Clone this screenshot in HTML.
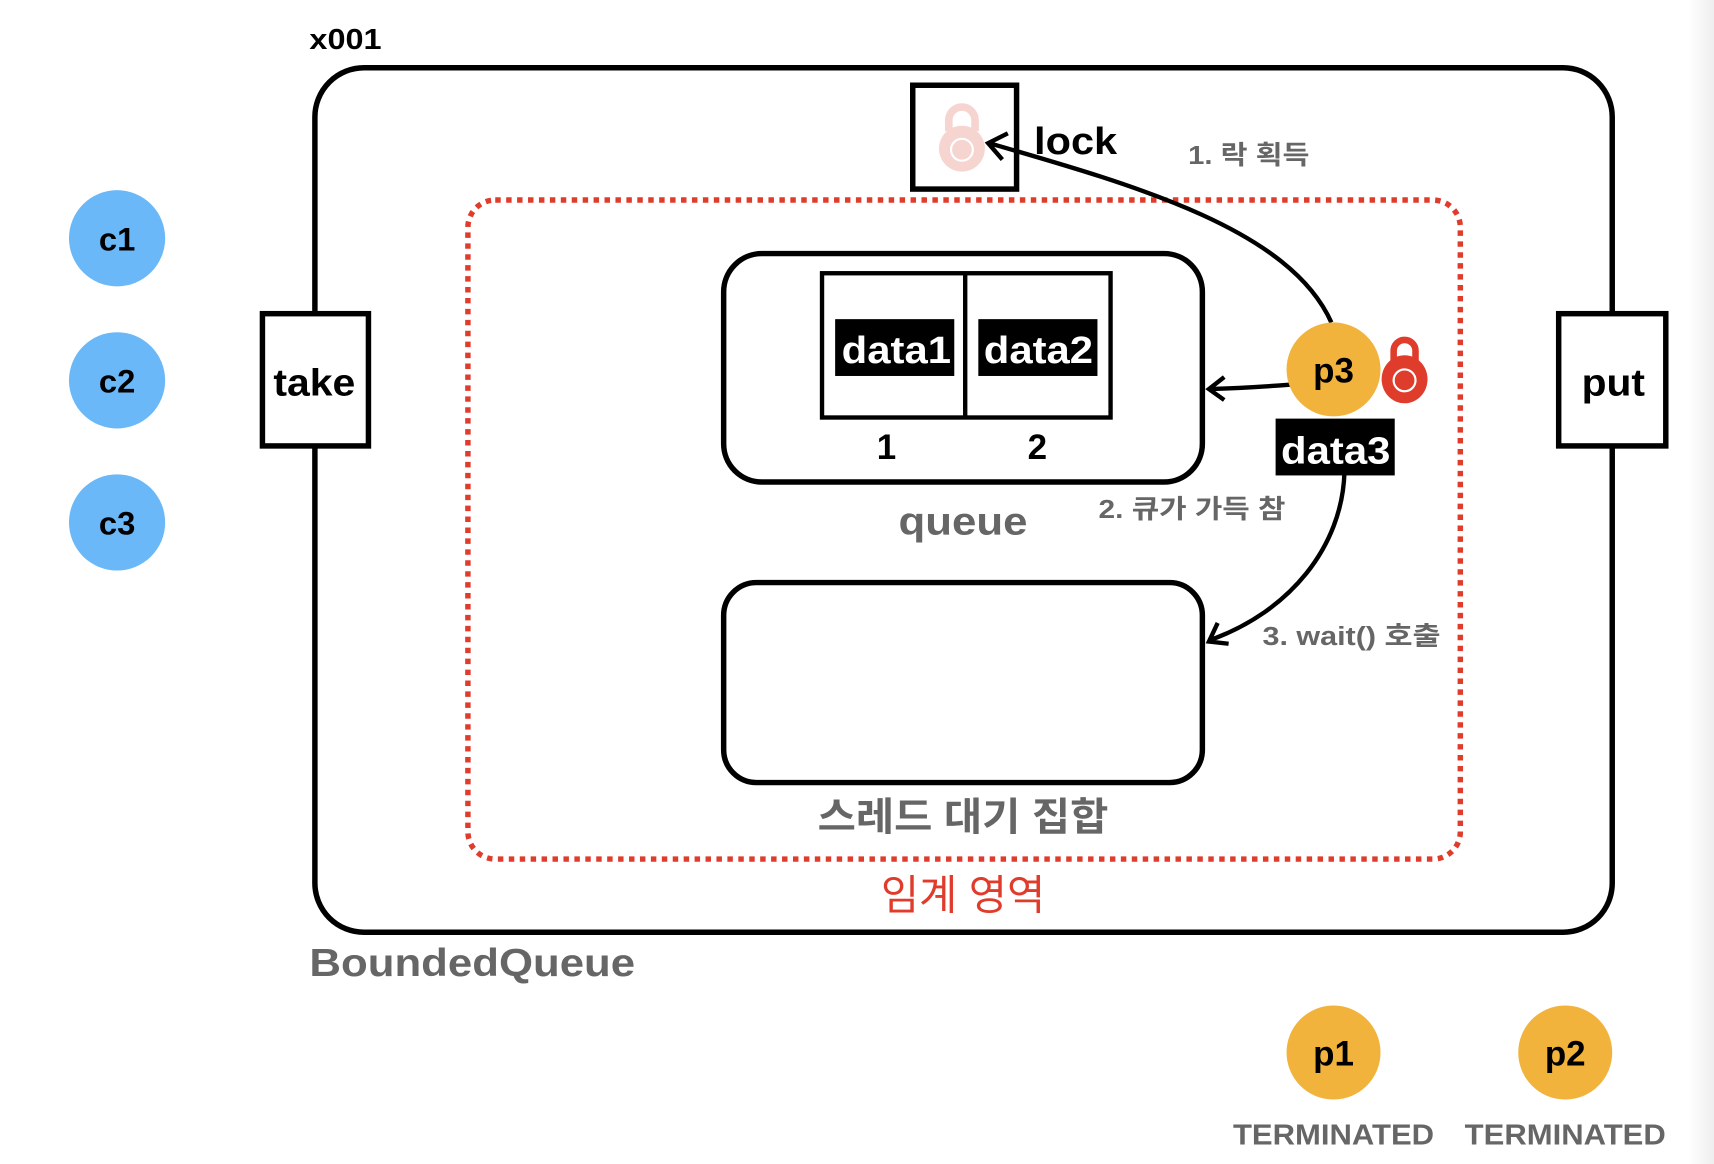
<!DOCTYPE html>
<html><head><meta charset="utf-8"><style>
html,body{margin:0;padding:0;background:#fff;width:1714px;height:1164px;overflow:hidden}
svg{display:block}
text{font-family:"Liberation Sans","Noto Sans CJK KR",sans-serif}
</style></head><body>
<svg width="1714" height="1164" viewBox="0 0 1568 1065" xmlns="http://www.w3.org/2000/svg">
<defs>
<linearGradient id="g" x1="0" x2="1"><stop offset="0" stop-color="#fff"/><stop offset="1" stop-color="#eee"/></linearGradient>
</defs>
<rect x="1545" y="0" width="23" height="1065" fill="url(#g)"/>
<text x="283" y="45" font-size="26" font-weight="bold" textLength="66" lengthAdjust="spacingAndGlyphs">x001</text>
<rect x="288" y="62" width="1187" height="791" rx="45" fill="none" stroke="#000" stroke-width="5"/>
<rect x="835" y="78" width="95" height="95" fill="#fff" stroke="#000" stroke-width="5"/>
<path d="M868 120 v-10 a12 12 0 0 1 24 0 v10" fill="none" stroke="#f6d4d0" stroke-width="7"/>
<circle cx="880" cy="136" r="21" fill="#f6d4d0"/>
<circle cx="880" cy="137" r="10" fill="none" stroke="#fff" stroke-width="2"/>
<text x="946" y="141" font-size="35" font-weight="bold" textLength="76" lengthAdjust="spacingAndGlyphs">lock</text>
<rect x="428" y="183" width="908" height="603" rx="25" fill="none" stroke="#e03c2c" stroke-width="5" stroke-dasharray="5 5"/>
<rect x="662" y="232" width="438" height="209" rx="35" fill="#fff" stroke="#000" stroke-width="5"/>
<rect x="752" y="250" width="264" height="132" fill="none" stroke="#000" stroke-width="4"/>
<line x1="883" y1="250" x2="883" y2="382" stroke="#000" stroke-width="4"/>
<rect x="764" y="292" width="109" height="52" fill="#000"/>
<rect x="895" y="292" width="109" height="52" fill="#000"/>
<text x="770" y="332" font-size="35" font-weight="bold" fill="#fff" textLength="100" lengthAdjust="spacingAndGlyphs">data1</text>
<text x="900" y="332" font-size="35" font-weight="bold" fill="#fff" textLength="100" lengthAdjust="spacingAndGlyphs">data2</text>
<text x="811" y="420" font-size="32" font-weight="bold" text-anchor="middle">1</text>
<text x="949" y="420" font-size="32" font-weight="bold" text-anchor="middle">2</text>
<text x="822" y="489" font-size="36" font-weight="bold" fill="#666" textLength="118" lengthAdjust="spacingAndGlyphs">queue</text>
<rect x="662" y="533" width="438" height="183" rx="30" fill="#fff" stroke="#000" stroke-width="5"/>
<text x="748" y="760" font-size="36" font-weight="bold" fill="#666" textLength="266" lengthAdjust="spacingAndGlyphs">스레드 대기 집합</text>
<text x="881" y="832" font-size="38" fill="#e03c2c" text-anchor="middle">임계 영역</text>
<text x="283" y="893" font-size="36" font-weight="bold" fill="#666" textLength="298" lengthAdjust="spacingAndGlyphs">BoundedQueue</text>
<rect x="240" y="287" width="97" height="121" fill="#fff" stroke="#000" stroke-width="5"/>
<text x="250" y="362" font-size="35" font-weight="bold" textLength="75" lengthAdjust="spacingAndGlyphs">take</text>
<rect x="1426" y="287" width="98" height="121" fill="#fff" stroke="#000" stroke-width="5"/>
<text x="1447" y="362" font-size="35" font-weight="bold" textLength="58" lengthAdjust="spacingAndGlyphs">put</text>
<g fill="#6ab8f7"><circle cx="107" cy="218" r="44"/><circle cx="107" cy="348" r="44"/><circle cx="107" cy="478" r="44"/></g>
<g font-size="30" font-weight="bold" text-anchor="middle"><text x="107" y="229">c1</text><text x="107" y="359">c2</text><text x="107" y="489">c3</text></g>
<g fill="none" stroke="#000" stroke-width="4">
<path d="M1218 295 C1180 210 1040 170 905 131"/>
<path d="M922 122 L904 131 L917 146"/>
<path d="M1180 352 Q1140 355 1106 356"/>
<path d="M1120 345 L1106 356 L1120 366"/>
<path d="M1230 432 C1228 500 1180 560 1106 586"/>
<path d="M1114 570 L1106 587 L1124 589"/>
</g>
<circle cx="1220" cy="338" r="43" fill="#f2b33d"/>
<text x="1220" y="350" font-size="32" font-weight="bold" text-anchor="middle">p3</text>
<path d="M1275 330 v-9 a10 10 0 0 1 20 0 v9" fill="none" stroke="#e03c2c" stroke-width="6"/>
<ellipse cx="1285" cy="347" rx="21" ry="22" fill="#e03c2c"/>
<circle cx="1285" cy="348" r="10" fill="none" stroke="#fff" stroke-width="2"/>
<rect x="1167" y="383" width="109" height="52" fill="#000"/>
<text x="1172" y="424" font-size="35" font-weight="bold" fill="#fff" textLength="100" lengthAdjust="spacingAndGlyphs">data3</text>
<g font-size="24" font-weight="bold" fill="#666">
<text x="1087" y="150" textLength="111" lengthAdjust="spacingAndGlyphs">1. 락 획득</text>
<text x="1005" y="474" textLength="171" lengthAdjust="spacingAndGlyphs">2. 큐가 가득 참</text>
<text x="1155" y="590" textLength="163" lengthAdjust="spacingAndGlyphs">3. wait() 호출</text>
</g>
<circle cx="1220" cy="963" r="43" fill="#f2b33d"/>
<circle cx="1432" cy="963" r="43" fill="#f2b33d"/>
<text x="1220" y="975" font-size="32" font-weight="bold" text-anchor="middle">p1</text>
<text x="1432" y="975" font-size="32" font-weight="bold" text-anchor="middle">p2</text>
<g font-size="26" font-weight="bold" fill="#666">
<text x="1128" y="1047" textLength="184" lengthAdjust="spacingAndGlyphs">TERMINATED</text>
<text x="1340" y="1047" textLength="184" lengthAdjust="spacingAndGlyphs">TERMINATED</text>
</g>
</svg>
</body></html>
